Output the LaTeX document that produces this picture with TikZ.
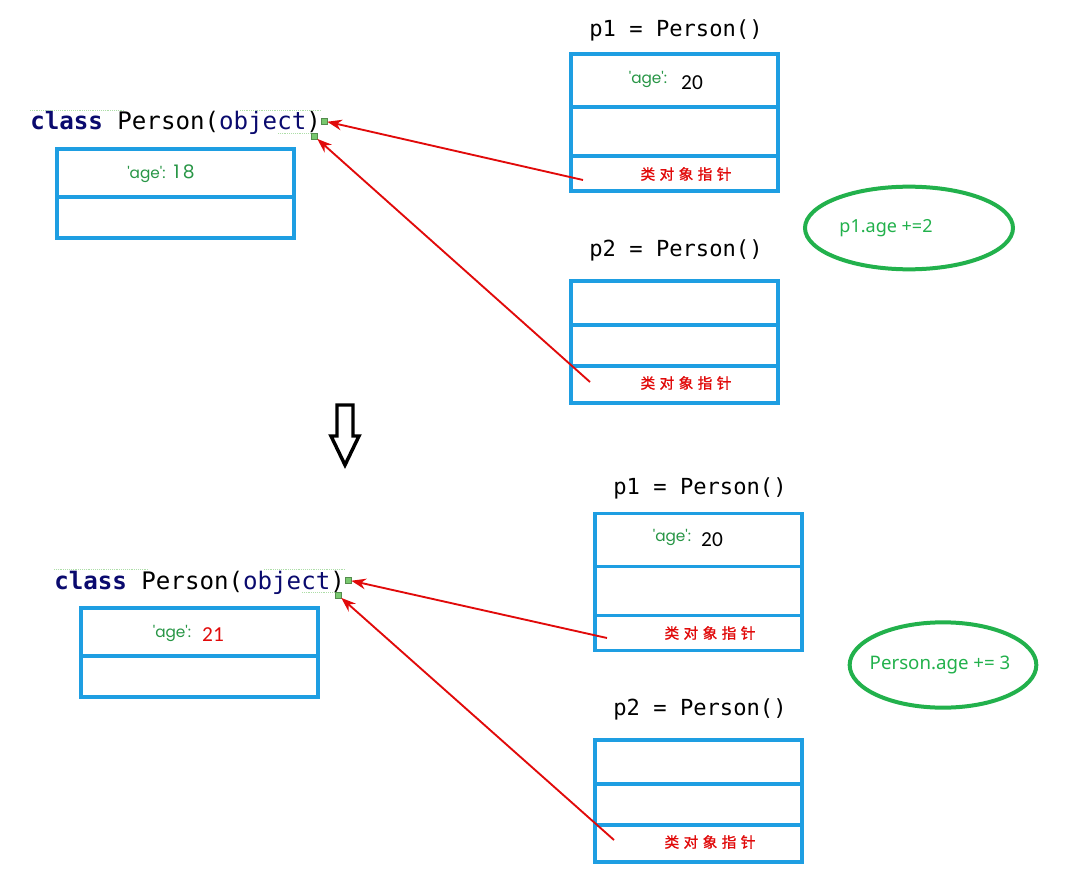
\documentclass[tikz,border=0pt]{standalone}
\usepackage{fontspec}
\setmainfont{Noto Sans}
\newfontfamily\codefont{DejaVu Sans Mono}
\newfontfamily\numfont{Carlito}
\newfontfamily\keyfont{Poppins}
\newfontfamily\cjkfont[LetterSpace=30,FakeBold=1.2]{Noto Sans CJK SC}
\usetikzlibrary{arrows.meta,shapes.geometric}
\definecolor{boxblue}{RGB}{30,158,226}
\definecolor{keynavy}{RGB}{10,10,110}
\definecolor{textgreen}{RGB}{40,150,70}
\definecolor{ringgreen}{RGB}{34,177,76}
\definecolor{ptrred}{RGB}{225,10,10}
\definecolor{handlegreen}{RGB}{120,200,110}
\tikzset{
  x=0.75pt, y=-0.75pt,
  cell/.style={draw=boxblue, line width=2.6pt, minimum width=#1, inner sep=0pt, outer sep=0pt},
  under/.style={anchor=north, at={(#1.south)}},
  classdecl/.style={font=\codefont\fontsize{18.1}{20}\selectfont, inner sep=0pt, anchor=base west},
  objtitle/.style={font=\codefont\fontsize{16.6}{18}\selectfont, inner sep=0pt},
  key/.style={font=\keyfont\fontsize{11.5}{13}\selectfont, text=textgreen, inner sep=0pt},
  val/.style={font=\numfont\fontsize{16}{18}\selectfont, inner sep=0pt},
  ptrtext/.style={font=\cjkfont\fontsize{11}{13}\selectfont, text=ptrred, inner sep=0pt},
  ring/.style={draw=ringgreen, line width=3pt, ellipse, inner sep=0pt},
  ringtext/.style={text=ringgreen, inner sep=0pt},
  handle/.style={draw=handlegreen!70!black, fill=handlegreen, minimum size=4.5pt, inner sep=0pt},
  ptrarrow/.style={draw=ptrred, line width=1.4pt, -{Stealth[length=11pt,width=8pt]}},
  guide/.style={draw=handlegreen!60, densely dotted, line width=0.4pt},
}
\newcommand{\kw}[1]{\textcolor{keynavy}{\textbf{#1}}}
\newcommand{\nv}[1]{\textcolor{keynavy}{#1}}
\begin{document}
\begin{tikzpicture}
\useasboundingbox[fill=white] (0,0) rectangle (1071,884);

% ===================== before =====================
% class declaration
\node[classdecl] (cls1) at (30,130) {\kw{class} Person(\nv{object})};
\draw[guide] (30,110) -- (125,110);
\draw[guide] (240,110) -- (322,110);
\draw[guide] (278,133) -- (312,133);
\node[handle] (h1a) at (324,121) {};
\node[handle] (h1b) at (314,136) {};

% class storage
\node[cell=178pt, minimum height=36pt] (c1top) at (175.5,173) {};
\node[cell=178pt, minimum height=30.75pt, under=c1top] (c1bot) {};
\node[key, anchor=base west] (c1key) at (127,179) {'age':\hspace{6pt}\fontsize{14}{16}\selectfont 1\hspace{2.5pt}8};

% p1 object
\node[objtitle] (t1) at (676,30) {p1 = Person()};
\node[cell=155.25pt, minimum height=39.75pt] (p1a) at (674.5,80.5) {};
\node[cell=155.25pt, minimum height=36.75pt, under=p1a] (p1b) {};
\node[cell=155.25pt, minimum height=26.25pt, under=p1b] (p1c) {};
\node[key] (p1key) at (648,79) {'age':};
\node[val] (p1val) at (692,83) {20};
\node[ptrtext] (p1ptr) at (686,174) {类对象指针};

% p2 object
\node[objtitle] (t2) at (676,250) {p2 = Person()};
\node[cell=155.25pt, minimum height=33pt] (p2a) at (674.5,303) {};
\node[cell=155.25pt, minimum height=30.75pt, under=p2a] (p2b) {};
\node[cell=155.25pt, minimum height=27.75pt, under=p2b] (p2c) {};
\node[ptrtext] (p2ptr) at (686,383) {类对象指针};

% operation
\node[ring, minimum width=156pt, minimum height=62pt] (op1) at (909,228) {};
\node[ringtext, font=\fontsize{13.5}{15}\selectfont] (op1t) at (886,228) {p1.age +=2};

% class pointers
\coordinate (s1) at (583,180);
\coordinate (s2) at (590,382);
\draw[ptrarrow] (s1) -- (h1a);
\draw[ptrarrow] (s2) -- (h1b);

% transition arrow
\draw[line width=2.6pt, line join=miter, fill=white] (337,405) -- (353,405) -- (353,436) -- (359,436) -- (345,465) -- (331,436) -- (337,436) -- cycle;

% ===================== after =====================
\node[classdecl] (cls2) at (54,589) {\kw{class} Person(\nv{object})};
\draw[guide] (54,569) -- (149,569);
\draw[guide] (264,569) -- (346,569);
\draw[guide] (302,592) -- (336,592);
\node[handle] (h2a) at (348,580) {};
\node[handle] (h2b) at (338,595) {};

\node[cell=178pt, minimum height=36pt] (c2top) at (199.5,632) {};
\node[cell=178pt, minimum height=30.75pt, under=c2top] (c2bot) {};
\node[key] (c2key) at (172,633) {'age':};
\node[val, text=ptrred] (c2val) at (213,635) {21};

\node[objtitle] (t3) at (700,488) {p1 = Person()};
\node[cell=155.25pt, minimum height=39.75pt] (q1a) at (698.5,540) {};
\node[cell=155.25pt, minimum height=36.75pt, under=q1a] (q1b) {};
\node[cell=155.25pt, minimum height=26.25pt, under=q1b] (q1c) {};
\node[key] (q1key) at (672,537) {'age':};
\node[val] (q1val) at (712,540) {20};
\node[ptrtext] (q1ptr) at (710,633) {类对象指针};

\node[objtitle] (t4) at (700,709) {p2 = Person()};
\node[cell=155.25pt, minimum height=33pt] (q2a) at (698.5,762) {};
\node[cell=155.25pt, minimum height=30.75pt, under=q2a] (q2b) {};
\node[cell=155.25pt, minimum height=27.75pt, under=q2b] (q2c) {};
\node[ptrtext] (q2ptr) at (710,842) {类对象指针};

\node[ring, minimum width=140pt, minimum height=64pt] (op2) at (943,665) {};
\node[ringtext, font=\fontsize{14}{16}\selectfont] (op2t) at (940,665) {Person.age += 3};

\coordinate (s3) at (607,638);
\coordinate (s4) at (614,840);
\draw[ptrarrow] (s3) -- (h2a);
\draw[ptrarrow] (s4) -- (h2b);
\end{tikzpicture}
\end{document}
